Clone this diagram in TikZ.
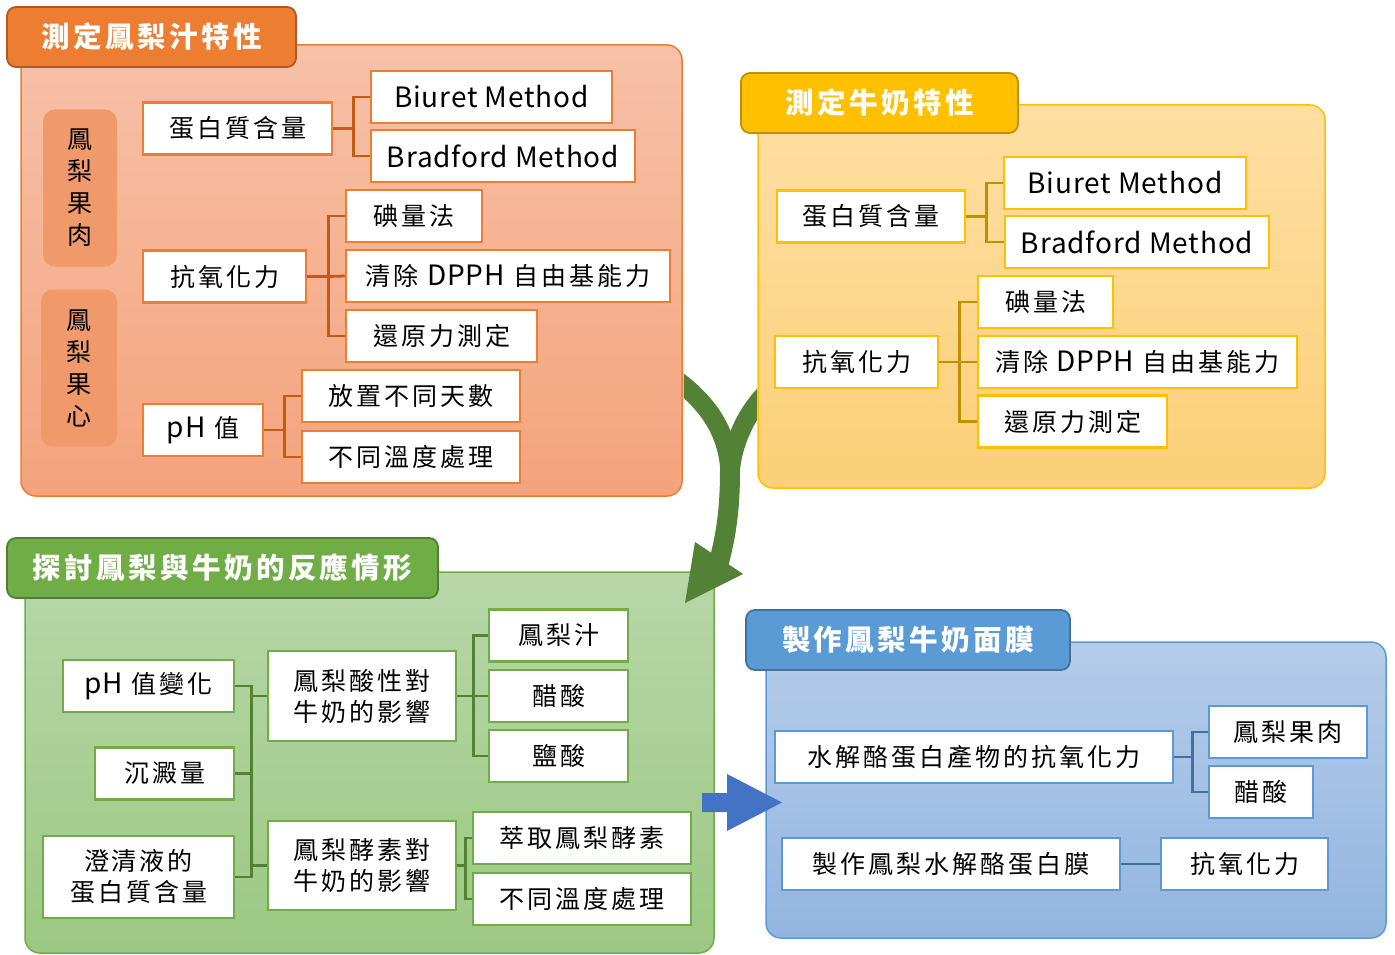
\documentclass[tikz,border=0pt]{standalone}
\usepackage{fontspec}
\setmainfont{Noto Sans CJK TC}[LetterSpace=12]
\newfontfamily\latfont{Noto Sans CJK TC}[LetterSpace=3]
\newcommand{\lat}[1]{{\latfont\fontsize{28}{31}\selectfont #1}}
\usetikzlibrary{calc}
\definecolor{oB}{HTML}{ED7D31}
\definecolor{oD}{HTML}{C55A11}
\definecolor{oT}{HTML}{AE5A21}
\definecolor{oTop}{HTML}{F7C1A8}
\definecolor{oBot}{HTML}{F4A37C}
\definecolor{oSide}{HTML}{F0996A}
\definecolor{yB}{HTML}{FFC000}
\definecolor{yD}{HTML}{BF9000}
\definecolor{yTop}{HTML}{FEDFA2}
\definecolor{yBot}{HTML}{FCCF78}
\definecolor{gB}{HTML}{70AD47}
\definecolor{gD}{HTML}{548235}
\definecolor{gT}{HTML}{507E32}
\definecolor{gTop}{HTML}{B7D7A9}
\definecolor{gBot}{HTML}{9CC882}
\definecolor{bB}{HTML}{5B9BD5}
\definecolor{bD}{HTML}{41719C}
\definecolor{bTop}{HTML}{B5CCE9}
\definecolor{bBot}{HTML}{93B5E1}
\definecolor{arrG}{HTML}{538135}
\definecolor{arrB}{HTML}{4472C4}
\tikzset{
  txt/.style={font=\fontsize{25}{31}\selectfont, text=black, align=center},
  box/.style={txt, fill=white, line width=2.5pt, minimum height=52, inner sep=0pt},
  obox/.style={box, draw=oB},
  ybox/.style={box, draw=yB},
  gbox/.style={box, draw=gB},
  bbox/.style={box, draw=bB},
  tabbox/.style={rounded corners=9, line width=1.8pt, minimum height=60, inner sep=0pt,
     text=white, font=\fontsize{28.5}{32}\selectfont\bfseries},
  panel/.style={rounded corners=15, line width=1.5pt},
  conn/.style={line width=2.8pt},
}
\begin{document}
\begin{tikzpicture}[x=1pt,y=-1pt]
\useasboundingbox (0,0) rectangle (1395,955);

% ===== Orange panel =====
\path[panel, draw=oB, top color=oTop, bottom color=oBot] (21,45) rectangle (682,496);
\node[tabbox, draw=oT, fill=oB, minimum width=289] (ot) at (151.5,37) {測定鳳梨汁特性};
\node[txt, fill=oSide, rounded corners=12, minimum width=74, minimum height=157, inner sep=0pt,
      font=\fontsize{25}{32}\selectfont] (os1) at (80,188) {鳳\\梨\\果\\肉};
\node[txt, fill=oSide, rounded corners=12, minimum width=76, minimum height=157, inner sep=0pt,
      font=\fontsize{25}{32}\selectfont] (os2) at (79,368) {鳳\\梨\\果\\心};

\node[obox, minimum width=189] (o1) at (237.5,128.5) {蛋白質含量};
\node[obox, minimum width=241] (o2) at (491.5,97) {\lat{Biuret Method}};
\node[obox, minimum width=264] (o3) at (503,156) {\lat{Bradford Method}};
\node[obox, minimum width=163] (o4) at (224.5,276.5) {抗氧化力};
\node[obox, minimum width=136] (o5) at (414,216) {碘量法};
\node[obox, minimum width=324] (o6) at (508,276) {清除 \lat{DPPH} 自由基能力};
\node[obox, minimum width=191] (o7) at (441.5,336) {還原力測定};
\node[obox, minimum width=120] (o8) at (203,430) {\lat{pH} 值};
\node[obox, minimum width=218] (o9) at (411,396) {放置不同天數};
\node[obox, minimum width=218] (o10) at (411,457) {不同溫度處理};

\draw[conn, oD] (o1.east) -- ++(20,0) coordinate (oj1);
\draw[conn, oD] (o2.west) -| (oj1) |- (o3.west);
\draw[conn, oD] (o4.east) -- ++(21,0) coordinate (oj2);
\draw[conn, oD] (o5.west) -| (oj2) |- (o7.west);
\draw[conn, oD] (oj2) -- (o6.west);
\draw[conn, oD] (o8.east) -- ++(20,0) coordinate (oj3);
\draw[conn, oD] (o9.west) -| (oj3) |- (o10.west);

% ===== Yellow panel =====
\path[panel, draw=yB, top color=yTop, bottom color=yBot] (758,105) rectangle (1325,488);
\node[tabbox, draw=yD, fill=yB, minimum width=277] (yt) at (879.5,103) {測定牛奶特性};

\node[ybox, minimum width=188] (y1) at (871,216.5) {蛋白質含量};
\node[ybox, minimum width=242] (y2) at (1125,183) {\lat{Biuret Method}};
\node[ybox, minimum width=264] (y3) at (1137,242) {\lat{Bradford Method}};
\node[ybox, minimum width=163] (y4) at (856.5,362) {抗氧化力};
\node[ybox, minimum width=135] (y5) at (1045.5,302) {碘量法};
\node[ybox, minimum width=319] (y6) at (1137.5,362) {清除 \lat{DPPH} 自由基能力};
\node[ybox, minimum width=189] (y7) at (1072.5,421.5) {還原力測定};

\draw[conn, yD] (y1.east) -- ++(20,0) coordinate (yj1);
\draw[conn, yD] (y2.west) -| (yj1) |- (y3.west);
\draw[conn, yD] (y4.east) -- ++(20,0) coordinate (yj2);
\draw[conn, yD] (y5.west) -| (yj2) |- (y7.west);
\draw[conn, yD] (yj2) -- (y6.west);

% ===== Green panel =====
\path[panel, draw=gB, top color=gTop, bottom color=gBot] (25,572) rectangle (714,953);
\node[tabbox, draw=gT, fill=gB, minimum width=431] (gt) at (222.5,568) {探討鳳梨與牛奶的反應情形};

\node[gbox, minimum width=171] (g1) at (148.5,686) {\lat{pH} 值變化};
\node[gbox, minimum width=139] (g2) at (164.5,773.5) {沉澱量};
\node[gbox, minimum width=191, minimum height=82] (g3) at (138.5,877) {澄清液的\\蛋白質含量};
\node[gbox, minimum width=188, minimum height=90] (g4) at (362,696) {鳳梨酸性對\\牛奶的影響};
\node[gbox, minimum width=188, minimum height=89] (g5) at (362,865.5) {鳳梨酵素對\\牛奶的影響};
\node[gbox, minimum width=139] (g6) at (558.5,635.5) {鳳梨汁};
\node[gbox, minimum width=139] (g7) at (558.5,696) {醋酸};
\node[gbox, minimum width=139] (g8) at (558.5,756) {鹽酸};
\node[gbox, minimum width=218] (g9) at (582,838) {萃取鳳梨酵素};
\node[gbox, minimum width=218] (g10) at (582,899) {不同溫度處理};

\draw[conn, gD] (g1.east) -- ++(16,0) coordinate (gj) |- (g3.east);
\draw[conn, gD] (g2.east) -- (gj |- g2.east);
\draw[conn, gD] (gj |- g4.west) -- (g4.west);
\draw[conn, gD] (gj |- g5.west) -- (g5.west);
\draw[conn, gD] (g4.east) -- ++(16,0) coordinate (gj2);
\draw[conn, gD] (g6.west) -| (gj2) |- (g8.west);
\draw[conn, gD] (gj2) -- (g7.west);
\draw[conn, gD] (g5.east) -- ++(8,0) coordinate (gj3);
\draw[conn, gD] (g9.west) -| (gj3) |- (g10.west);

% ===== Blue panel =====
\path[panel, draw=bB, top color=bTop, bottom color=bBot] (766,642) rectangle (1386,938);
\node[tabbox, draw=bD, fill=bB, minimum width=324] (bt) at (908,640) {製作鳳梨牛奶面膜};

\node[bbox, minimum width=398] (b1) at (974,757) {水解酪蛋白產物的抗氧化力};
\node[bbox, minimum width=158] (b2) at (1288,732) {鳳梨果肉};
\node[bbox, minimum width=104] (b3) at (1261,792) {醋酸};
\node[bbox, minimum width=338] (b4) at (951,864) {製作鳳梨水解酪蛋白膜};
\node[bbox, minimum width=167] (b5) at (1244.5,864) {抗氧化力};

\draw[conn, bD] (b1.east) -- ++(18,0) coordinate (bj);
\draw[conn, bD] (b2.west) -| (bj) |- (b3.west);
\draw[conn, bD] (b4.east) -- (b5.west);

% ===== Green merging arrow =====
\begin{scope}
\clip (683.5,0) rectangle (757,955);
\draw[arrG, line width=19pt] (665,372) .. controls (705,398) and (729,430) .. (730,475);
\draw[arrG, line width=19pt] (775,385) .. controls (750,405) and (732,440) .. (730,475);
\draw[arrG, line width=20pt] (730,470) .. controls (730,510) and (726,535) .. (719,562);
\fill[arrG] (695,542) -- (743,574) -- (685,603) -- cycle;
\end{scope}

% ===== Blue block arrow =====
\fill[arrB] (702,793) -- (727,793) -- (727,774) -- (782,802.5) -- (727,831) -- (727,812) -- (702,812) -- cycle;

\end{tikzpicture}
\end{document}
